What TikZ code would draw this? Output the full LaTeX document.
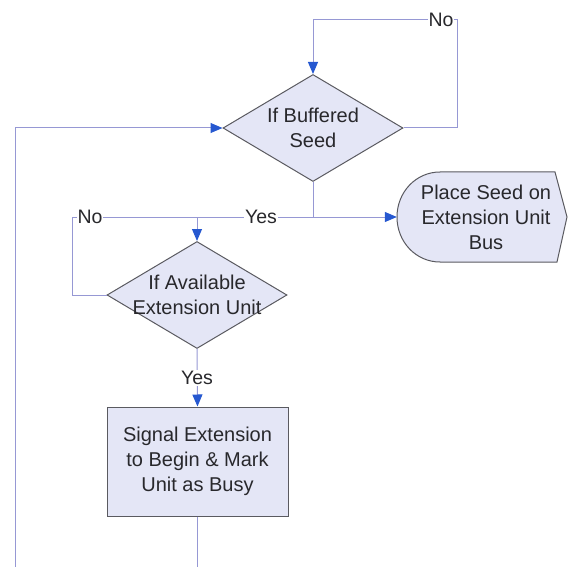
\documentclass[tikz,border=0pt]{standalone}
\usepackage{fontspec}
\setmainfont{Liberation Sans}
\usetikzlibrary{shapes.geometric,arrows.meta,backgrounds}

\definecolor{shapefill}{RGB}{228,230,246}
\definecolor{shapeline}{RGB}{90,90,96}
\definecolor{wire}{RGB}{150,152,212}
\definecolor{tipblue}{RGB}{38,88,208}
\definecolor{ink}{RGB}{40,40,44}

\tikzset{
  every node/.style={font=\fontsize{20}{25}\selectfont, text=ink},
  decision/.style={diamond, draw=shapeline, fill=shapefill, line width=1pt,
    inner sep=0pt, minimum width=180pt, minimum height=107pt},
  process/.style={rectangle, draw=shapeline, fill=shapefill, line width=1pt,
    minimum width=181pt, minimum height=109pt, align=center},
  displaytxt/.style={rectangle, draw=none, minimum width=178pt,
    minimum height=90pt, align=center},
  conn/.style={draw=wire, line width=1pt},
  arrowed/.style={conn, -{Triangle[length=12pt, width=10pt, color=tipblue]}},
  lbl/.style={fill=white, inner sep=1pt, font=\fontsize{19.5}{22}\selectfont}
}

\begin{document}
\begin{tikzpicture}[x=1pt, y=-1pt]
  \useasboundingbox (0,0) rectangle (568,567);

  % decisions and actions
  \node[decision, label={[align=center, font=\fontsize{20}{25}\selectfont, text=ink]center:If Buffered\\Seed}] (d1) at (313,128) {};
  \node[decision, label={[align=center, font=\fontsize{20}{25}\selectfont, text=ink]center:If Available\\Extension Unit}] (d2) at (197,295) {};
  \node[process] (work) at (197.5,461.5) {Signal Extension\\to Begin \& Mark\\Unit as Busy};
  \node[displaytxt] (seed) at (486,217) {Place Seed on\\Extension Unit\\Bus};

  % display outline: rounded left side, pointed right side
  \begin{scope}[on background layer]
    \draw[draw=shapeline, fill=shapefill, line width=1pt]
      (440,172) -- (555,172) -- (567,217) -- (557,262) -- (440,262)
      .. controls (416,262) and (397,242) .. (397,217)
      .. controls (397,192) and (416,172) .. cycle;
  \end{scope}

  % helper points for the routing
  \coordinate (topNo)  at (457,20);
  \coordinate (join)   at (d2.north |- seed.west);
  \coordinate (leftNo) at (72,217);
  \coordinate (loopL)  at (15,567);
  \coordinate (outB)   at (197.5,567);

  % connectors
  \draw[arrowed] (d1.east) -| (topNo) -| (d1.north);
  \draw[arrowed] (loopL) |- (d1.west);
  \draw[arrowed] (d1.south) |- (seed.west);
  \draw[conn] (d1.south) |- (join);
  \draw[conn] (d2.west) -| (leftNo) -- (join);
  \draw[arrowed] (join) -- (d2.north);
  \draw[arrowed] (d2.south) -- (work.north);
  \draw[conn] (work.south) -- (outB);

  % branch labels
  \node[lbl] (lNo1)  at (441,20)  {No};
  \node[lbl] (lYes1) at (261,217) {Yes};
  \node[lbl] (lNo2)  at (90,217)  {No};
  \node[lbl] (lYes2) at (197,378) {Yes};
\end{tikzpicture}
\end{document}
